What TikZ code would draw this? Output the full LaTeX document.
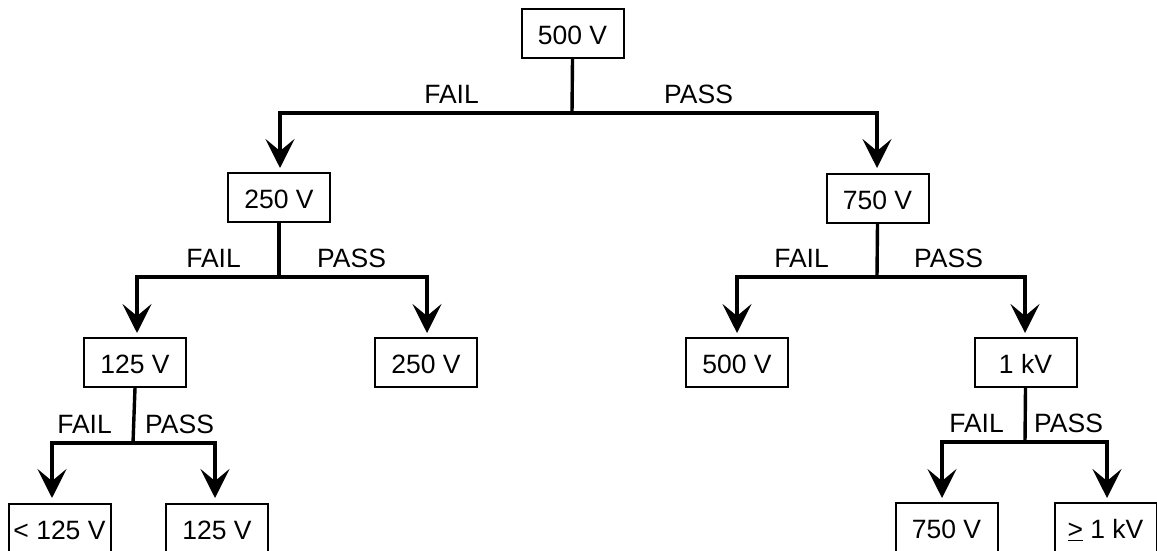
\documentclass[tikz,border=0pt]{standalone}
\usepackage{fontspec}
\setmainfont{Liberation Sans}
\usetikzlibrary{arrows.meta}
\begin{document}
\begin{tikzpicture}[x=1pt,y=-1pt,
  box/.style={draw,line width=2pt,minimum width=102pt,minimum height=49pt,
    inner sep=0pt,text height=22pt,text depth=0pt,
    font=\fontsize{26.5}{30}\selectfont},
  lbl/.style={inner sep=0pt,font=\fontsize{26.5}{30}\selectfont},
  wire/.style={line width=3.4pt,line join=miter},
  arr/.style={wire,-{Stealth[length=29pt,width=29pt,inset=12pt]}}]
\useasboundingbox (0,0) rectangle (1157,551);
\clip (0,0) rectangle (1157,551);

% test points
\node[box] (r)  at (572.5,33.5) {500 V};
\node[box] (b1) at (279,197.5) {250 V};
\node[box] (b2) at (877.5,198) {750 V};
\node[box] (c1) at (135,362.5) {125 V};
\node[box] (c2) at (426,362.5) {250 V};
\node[box] (c3) at (737,362.5) {500 V};
\node[box] (c4) at (1025.5,362.5) {1 kV};
\node[box] (d1) at (59.5,528.5) {< 125 V};
\node[box] (d2) at (217,528.5) {125 V};
\node[box] (d3) at (946.5,527.5) {750 V};
\node[box] (d4) at (1105.5,527.5) {\underline{>} 1 kV};

% branch junctions
\coordinate (j0) at (572,113);
\coordinate (j1) at (279,277);
\coordinate (j2) at (877,277);
\coordinate (j3) at (133,443);
\coordinate (j4) at (1025,442);

% arrow tips
\coordinate (t1) at (280,168);
\coordinate (t2) at (877,168);
\coordinate (t3) at (137,333);
\coordinate (t4) at (427,333);
\coordinate (t5) at (737,333);
\coordinate (t6) at (1025,333);
\coordinate (t7) at (52,498);
\coordinate (t8) at (215,498);
\coordinate (t9) at (942,498);
\coordinate (t10) at (1107,498);

% stems
\draw[wire] (r.south) -- (j0);
\draw[wire] (b1.south) -- (j1);
\draw[wire] (b2.south) -- (j2);
\draw[wire] (c1.south) -- (j3);
\draw[wire] (c4.south) -- (j4);

% branches
\draw[arr] (j0) -| (t1);
\draw[arr] (j0) -| (t2);
\draw[arr] (j1) -| (t3);
\draw[arr] (j1) -| (t4);
\draw[arr] (j2) -| (t5);
\draw[arr] (j2) -| (t6);
\draw[arr] (j3) -| (t7);
\draw[arr] (j3) -| (t8);
\draw[arr] (j4) -| (t9);
\draw[arr] (j4) -| (t10);

% outcome labels
\node[lbl,anchor=base east] (f0) at (479,103) {FAIL};
\node[lbl,anchor=base west] (p0) at (664,103) {PASS};
\node[lbl,anchor=base east] (f1) at (241,267) {FAIL};
\node[lbl,anchor=base west] (p1) at (317,267) {PASS};
\node[lbl,anchor=base east] (f2) at (829,267) {FAIL};
\node[lbl,anchor=base west] (p2) at (914,267) {PASS};
\node[lbl,anchor=base east] (f3) at (112,433) {FAIL};
\node[lbl,anchor=base west] (p3) at (145,433) {PASS};
\node[lbl,anchor=base east] (f4) at (1004,432) {FAIL};
\node[lbl,anchor=base west] (p4) at (1034,432) {PASS};
\end{tikzpicture}
\end{document}
